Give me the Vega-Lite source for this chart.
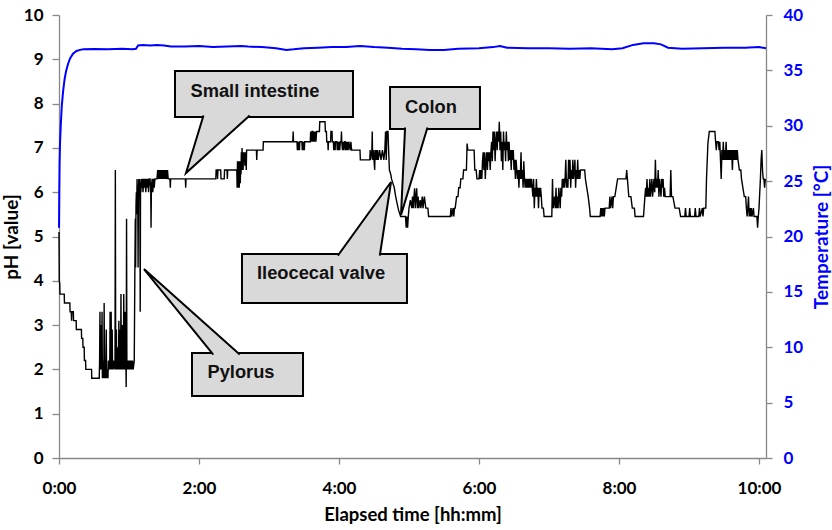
{
"$schema": "https://vega.github.io/schema/vega-lite/v6.json",
"width": 707, "height": 443,
"autosize": "none",
"padding": {"left": 59, "top": 15, "right": 66, "bottom": 72},
"background": "white",
"config": {
 "view": {"stroke": null},
 "axis": {"grid": false, "domainColor": "#888888", "tickColor": "#888888", "domainWidth": 1.3, "tickWidth": 1.3,
  "labelFont": "Lato", "labelFontWeight": "bold", "labelFontSize": 17, "labelColor": "black",
  "titleFont": "Lato", "titleFontWeight": "bold", "titleFontSize": 19, "titleColor": "black"}
},
"datasets": {
 "ph": [
{"t":0,"ph":5.1},{"t":0.004,"ph":4.0},{"t":0.01,"ph":3.95},{"t":0.014,"ph":3.7},{"t":0.075,"ph":3.7},{"t":0.078,"ph":3.5},{"t":0.155,"ph":3.5},{"t":0.158,"ph":3.3},{"t":0.175,"ph":3.3},{"t":0.18,"ph":3.1},{"t":0.185,"ph":3.3},{"t":0.205,"ph":3.3},{"t":0.208,"ph":3.1},{"t":0.245,"ph":3.1},{"t":0.248,"ph":2.9},{"t":0.32,"ph":2.9},{"t":0.323,"ph":2.7},{"t":0.34,"ph":2.7},{"t":0.343,"ph":2.5},{"t":0.36,"ph":2.5},{"t":0.363,"ph":2.2},{"t":0.38,"ph":2.2},{"t":0.383,"ph":2.0},{"t":0.465,"ph":2.0},{"t":0.468,"ph":1.8},{"t":0.575,"ph":1.8},
{"t":0.58,"ph":2.2},{"t":0.585,"ph":3.3},{"t":0.59,"ph":2.0},{"t":0.6,"ph":2.2},{"t":0.605,"ph":3.0},{"t":0.61,"ph":2.0},{"t":0.615,"ph":3.3},{"t":0.62,"ph":1.8},{"t":0.625,"ph":2.2},{"t":0.63,"ph":2.0},{"t":0.64,"ph":1.8},{"t":0.645,"ph":3.5},{"t":0.65,"ph":2.0},{"t":0.655,"ph":2.2},{"t":0.66,"ph":1.8},{"t":0.67,"ph":2.2},{"t":0.675,"ph":2.9},{"t":0.68,"ph":1.8},{"t":0.69,"ph":2.0},{"t":0.7,"ph":1.8},{"t":0.705,"ph":2.2},{"t":0.71,"ph":2.0},{"t":0.72,"ph":2.2},{"t":0.725,"ph":2.0},{"t":0.73,"ph":3.3},{"t":0.735,"ph":2.0},{"t":0.74,"ph":2.2},{"t":0.745,"ph":3.3},{"t":0.75,"ph":2.0},{"t":0.755,"ph":2.2},{"t":0.76,"ph":2.9},{"t":0.765,"ph":2.0},{"t":0.77,"ph":2.2},{"t":0.775,"ph":2.0},{"t":0.78,"ph":2.2},{"t":0.8,"ph":2.0},{"t":0.805,"ph":6.5},{"t":0.81,"ph":2.0},{"t":0.815,"ph":2.2},{"t":0.82,"ph":2.9},{"t":0.825,"ph":2.0},{"t":0.83,"ph":2.2},{"t":0.835,"ph":2.0},{"t":0.84,"ph":2.5},{"t":0.845,"ph":2.2},{"t":0.85,"ph":2.0},{"t":0.855,"ph":3.1},{"t":0.86,"ph":2.2},{"t":0.87,"ph":2.0},{"t":0.875,"ph":2.9},{"t":0.88,"ph":2.0},{"t":0.885,"ph":3.7},{"t":0.89,"ph":2.2},{"t":0.895,"ph":2.0},{"t":0.9,"ph":2.2},{"t":0.905,"ph":3.0},{"t":0.91,"ph":2.0},{"t":0.915,"ph":2.2},{"t":0.92,"ph":2.0},{"t":0.925,"ph":3.7},{"t":0.93,"ph":2.2},{"t":0.935,"ph":2.0},{"t":0.94,"ph":2.2},{"t":0.945,"ph":3.3},{"t":0.95,"ph":2.0},{"t":0.955,"ph":2.2},{"t":0.96,"ph":1.6},{"t":0.965,"ph":5.4},{"t":0.97,"ph":2.0},{"t":0.975,"ph":2.2},{"t":0.98,"ph":2.0},{"t":0.99,"ph":2.2},{"t":1.0,"ph":2.0},{"t":1.01,"ph":2.2},{"t":1.02,"ph":2.0},{"t":1.03,"ph":2.2},{"t":1.04,"ph":2.0},{"t":1.05,"ph":2.2},{"t":1.06,"ph":2.0},{"t":1.075,"ph":2.2},
{"t":1.085,"ph":4.5},{"t":1.09,"ph":5.4},{"t":1.095,"ph":4.3},{"t":1.1,"ph":5.7},{"t":1.105,"ph":6.0},{"t":1.11,"ph":5.5},{"t":1.115,"ph":6.3},{"t":1.12,"ph":5.8},{"t":1.125,"ph":6.1},{"t":1.13,"ph":4.3},{"t":1.135,"ph":6.0},{"t":1.14,"ph":6.3},{"t":1.145,"ph":5.9},{"t":1.15,"ph":6.3},{"t":1.155,"ph":6.1},{"t":1.16,"ph":3.3},{"t":1.165,"ph":6.2},{"t":1.17,"ph":6.0},{"t":1.175,"ph":6.3},{"t":1.18,"ph":6.1},{"t":1.19,"ph":6.3},{"t":1.2,"ph":6.0},{"t":1.21,"ph":6.3},{"t":1.22,"ph":6.1},{"t":1.23,"ph":6.3},{"t":1.24,"ph":6.0},{"t":1.25,"ph":6.3},{"t":1.26,"ph":6.1},{"t":1.27,"ph":6.3},{"t":1.28,"ph":6.0},{"t":1.29,"ph":6.3},{"t":1.3,"ph":6.3},{"t":1.31,"ph":6.1},{"t":1.315,"ph":5.2},{"t":1.32,"ph":6.1},{"t":1.33,"ph":6.3},{"t":1.34,"ph":6.0},{"t":1.35,"ph":6.3},{"t":1.36,"ph":6.1},{"t":1.37,"ph":6.3},{"t":1.4,"ph":6.3},
{"t":1.41,"ph":6.5},{"t":1.42,"ph":6.3},{"t":1.43,"ph":6.5},{"t":1.44,"ph":6.3},{"t":1.45,"ph":6.5},{"t":1.46,"ph":6.3},{"t":1.47,"ph":6.5},{"t":1.48,"ph":6.3},{"t":1.49,"ph":6.5},{"t":1.5,"ph":6.3},{"t":1.51,"ph":6.5},{"t":1.52,"ph":6.3},{"t":1.53,"ph":6.5},{"t":1.54,"ph":6.3},{"t":1.55,"ph":6.5},{"t":1.56,"ph":6.3},{"t":1.585,"ph":6.3},{"t":1.59,"ph":6.1},{"t":1.595,"ph":6.3},{"t":1.805,"ph":6.3},{"t":1.81,"ph":6.1},{"t":1.815,"ph":6.3},{"t":2.24,"ph":6.3},{"t":2.245,"ph":6.5},{"t":2.26,"ph":6.5},{"t":2.265,"ph":6.3},{"t":2.27,"ph":6.5},{"t":2.31,"ph":6.5},{"t":2.315,"ph":6.3},{"t":2.36,"ph":6.3},{"t":2.365,"ph":6.5},{"t":2.4,"ph":6.5},{"t":2.405,"ph":6.3},{"t":2.41,"ph":6.5},{"t":2.54,"ph":6.5},
{"t":2.545,"ph":6.1},{"t":2.55,"ph":6.7},{"t":2.555,"ph":6.1},{"t":2.56,"ph":6.5},{"t":2.565,"ph":6.2},{"t":2.57,"ph":6.7},{"t":2.575,"ph":6.1},{"t":2.58,"ph":6.5},{"t":2.585,"ph":6.7},{"t":2.59,"ph":6.2},{"t":2.595,"ph":6.7},{"t":2.6,"ph":6.4},{"t":2.605,"ph":6.9},{"t":2.61,"ph":6.5},{"t":2.615,"ph":7.0},{"t":2.62,"ph":6.7},{"t":2.625,"ph":6.9},{"t":2.63,"ph":6.5},{"t":2.635,"ph":6.9},{"t":2.64,"ph":6.7},{"t":2.65,"ph":6.9},{"t":2.655,"ph":6.6},{"t":2.66,"ph":6.9},{"t":2.665,"ph":6.7},{"t":2.67,"ph":6.9},{"t":2.675,"ph":6.5},{"t":2.68,"ph":6.95},{"t":2.82,"ph":6.95},{"t":2.825,"ph":6.73},{"t":2.83,"ph":6.95},{"t":2.915,"ph":6.95},{"t":2.92,"ph":7.14},{"t":3.34,"ph":7.14},{"t":3.345,"ph":7.37},{"t":3.35,"ph":7.14},{"t":3.4,"ph":7.14},
{"t":3.405,"ph":6.95},{"t":3.41,"ph":7.14},{"t":3.415,"ph":6.95},{"t":3.42,"ph":7.14},{"t":3.425,"ph":6.95},{"t":3.43,"ph":7.14},{"t":3.435,"ph":6.95},{"t":3.44,"ph":7.14},{"t":3.47,"ph":7.14},{"t":3.475,"ph":6.95},{"t":3.48,"ph":7.14},{"t":3.485,"ph":6.95},{"t":3.49,"ph":7.14},{"t":3.495,"ph":6.95},{"t":3.5,"ph":7.14},{"t":3.505,"ph":6.95},{"t":3.51,"ph":7.14},{"t":3.59,"ph":7.14},{"t":3.595,"ph":7.37},{"t":3.6,"ph":7.14},{"t":3.605,"ph":7.37},{"t":3.61,"ph":7.14},{"t":3.615,"ph":7.37},{"t":3.625,"ph":7.37},{"t":3.63,"ph":7.14},{"t":3.64,"ph":7.37},{"t":3.65,"ph":7.14},{"t":3.66,"ph":7.37},{"t":3.67,"ph":7.14},{"t":3.68,"ph":7.37},{"t":3.72,"ph":7.37},{"t":3.725,"ph":7.59},{"t":3.8,"ph":7.59},{"t":3.805,"ph":7.37},{"t":3.82,"ph":7.37},{"t":3.825,"ph":7.14},{"t":3.84,"ph":7.14},{"t":3.845,"ph":6.95},{"t":3.85,"ph":7.14},{"t":3.88,"ph":7.14},{"t":3.885,"ph":7.37},{"t":3.9,"ph":7.37},{"t":3.905,"ph":7.14},{"t":3.92,"ph":7.14},{"t":3.925,"ph":6.95},{"t":3.93,"ph":7.14},{"t":3.935,"ph":6.95},{"t":3.94,"ph":7.14},{"t":3.945,"ph":6.95},{"t":3.95,"ph":7.14},{"t":3.97,"ph":7.14},{"t":3.975,"ph":6.95},{"t":3.98,"ph":7.14},{"t":3.99,"ph":6.95},{"t":4.0,"ph":7.14},{"t":4.01,"ph":6.95},{"t":4.02,"ph":7.14},{"t":4.03,"ph":7.14},{"t":4.035,"ph":7.37},{"t":4.04,"ph":7.14},{"t":4.05,"ph":6.95},{"t":4.06,"ph":7.14},{"t":4.07,"ph":6.95},{"t":4.08,"ph":7.14},{"t":4.09,"ph":7.14},{"t":4.095,"ph":6.95},{"t":4.1,"ph":7.14},{"t":4.11,"ph":6.95},{"t":4.12,"ph":7.14},{"t":4.13,"ph":6.95},{"t":4.14,"ph":7.14},{"t":4.16,"ph":6.95},{"t":4.17,"ph":7.14},{"t":4.18,"ph":6.95},{"t":4.3,"ph":6.95},{"t":4.305,"ph":6.73},{"t":4.44,"ph":6.73},{"t":4.445,"ph":6.95},{"t":4.45,"ph":6.73},{"t":4.47,"ph":6.95},{"t":4.475,"ph":7.37},{"t":4.48,"ph":6.73},{"t":4.49,"ph":6.95},{"t":4.5,"ph":6.73},{"t":4.51,"ph":6.5},{"t":4.515,"ph":6.95},{"t":4.52,"ph":6.73},{"t":4.53,"ph":6.95},{"t":4.54,"ph":6.73},{"t":4.55,"ph":6.95},{"t":4.56,"ph":6.73},{"t":4.58,"ph":6.95},{"t":4.6,"ph":6.73},{"t":4.62,"ph":6.95},{"t":4.64,"ph":6.73},{"t":4.655,"ph":6.95},{"t":4.665,"ph":7.37},{"t":4.675,"ph":6.73},{"t":4.685,"ph":7.37},{"t":4.7,"ph":7.37},{"t":4.71,"ph":6.9},{"t":4.72,"ph":6.5},{"t":4.74,"ph":6.4},{"t":4.75,"ph":6.3},{"t":4.77,"ph":6.2},{"t":4.79,"ph":6.1},{"t":4.81,"ph":5.9},{"t":4.83,"ph":5.75},{"t":4.85,"ph":5.6},{"t":4.88,"ph":5.45},{"t":4.95,"ph":5.45},{"t":4.96,"ph":5.2},{"t":4.97,"ph":5.45},{"t":4.98,"ph":5.2},{"t":4.99,"ph":5.45},
{"t":5.0,"ph":5.64},{"t":5.02,"ph":5.82},{"t":5.04,"ph":5.64},{"t":5.05,"ph":5.9},{"t":5.06,"ph":5.64},{"t":5.08,"ph":6.09},{"t":5.09,"ph":5.64},{"t":5.1,"ph":5.9},{"t":5.11,"ph":6.09},{"t":5.12,"ph":5.64},{"t":5.13,"ph":5.9},{"t":5.14,"ph":5.64},{"t":5.16,"ph":5.82},{"t":5.17,"ph":5.64},{"t":5.19,"ph":5.9},{"t":5.2,"ph":5.64},{"t":5.22,"ph":5.9},{"t":5.24,"ph":5.64},{"t":5.27,"ph":5.64},{"t":5.28,"ph":5.45},{"t":5.59,"ph":5.45},{"t":5.6,"ph":5.64},{"t":5.61,"ph":5.45},{"t":5.63,"ph":5.64},{"t":5.64,"ph":5.45},{"t":5.65,"ph":5.64},{"t":5.66,"ph":5.64},{"t":5.68,"ph":5.9},{"t":5.7,"ph":5.9},{"t":5.71,"ph":6.1},{"t":5.73,"ph":6.1},{"t":5.74,"ph":6.3},{"t":5.77,"ph":6.3},{"t":5.78,"ph":6.5},{"t":5.82,"ph":6.5},{"t":5.83,"ph":7.1},{"t":5.84,"ph":6.95},{"t":5.93,"ph":6.95},{"t":5.94,"ph":6.5},{"t":5.96,"ph":6.5},{"t":5.97,"ph":6.3},{"t":6.0,"ph":6.3},
{"t":6.01,"ph":6.5},{"t":6.02,"ph":6.3},{"t":6.03,"ph":6.5},{"t":6.04,"ph":6.3},{"t":6.05,"ph":6.7},{"t":6.06,"ph":6.9},{"t":6.07,"ph":6.5},{"t":6.08,"ph":6.9},{"t":6.09,"ph":6.3},{"t":6.1,"ph":6.7},{"t":6.11,"ph":6.9},{"t":6.12,"ph":6.5},{"t":6.13,"ph":6.9},{"t":6.14,"ph":6.7},{"t":6.15,"ph":6.9},{"t":6.16,"ph":6.5},{"t":6.17,"ph":6.9},{"t":6.18,"ph":7.14},{"t":6.19,"ph":6.7},{"t":6.2,"ph":7.37},{"t":6.21,"ph":6.95},{"t":6.22,"ph":7.37},{"t":6.23,"ph":6.7},{"t":6.24,"ph":7.14},{"t":6.25,"ph":7.37},{"t":6.26,"ph":6.95},{"t":6.27,"ph":7.37},{"t":6.28,"ph":7.14},{"t":6.29,"ph":7.59},{"t":6.3,"ph":6.95},{"t":6.31,"ph":7.37},{"t":6.32,"ph":6.7},{"t":6.33,"ph":7.14},{"t":6.34,"ph":6.5},{"t":6.35,"ph":7.37},{"t":6.36,"ph":6.95},{"t":6.37,"ph":7.14},{"t":6.38,"ph":6.7},{"t":6.39,"ph":7.37},{"t":6.4,"ph":6.95},{"t":6.41,"ph":7.14},{"t":6.42,"ph":6.7},{"t":6.43,"ph":7.14},{"t":6.44,"ph":6.73},{"t":6.45,"ph":6.95},{"t":6.46,"ph":6.5},{"t":6.47,"ph":6.95},{"t":6.48,"ph":6.73},{"t":6.49,"ph":6.95},{"t":6.5,"ph":6.5},{"t":6.51,"ph":6.73},{"t":6.52,"ph":6.3},{"t":6.53,"ph":6.73},{"t":6.54,"ph":6.5},{"t":6.55,"ph":6.3},{"t":6.56,"ph":6.5},{"t":6.57,"ph":6.1},{"t":6.58,"ph":6.5},{"t":6.59,"ph":6.3},{"t":6.6,"ph":6.9},{"t":6.61,"ph":6.3},{"t":6.62,"ph":6.5},{"t":6.63,"ph":6.1},{"t":6.64,"ph":6.7},{"t":6.65,"ph":6.3},{"t":6.66,"ph":6.1},{"t":6.67,"ph":6.3},{"t":6.68,"ph":6.1},{"t":6.69,"ph":6.3},{"t":6.7,"ph":6.1},{"t":6.71,"ph":6.3},{"t":6.72,"ph":6.1},{"t":6.73,"ph":6.3},{"t":6.74,"ph":6.1},{"t":6.75,"ph":6.3},{"t":6.76,"ph":6.1},{"t":6.77,"ph":5.9},{"t":6.78,"ph":6.3},{"t":6.79,"ph":5.64},{"t":6.8,"ph":6.1},{"t":6.81,"ph":5.9},{"t":6.82,"ph":6.3},{"t":6.83,"ph":5.9},{"t":6.84,"ph":6.1},{"t":6.85,"ph":5.64},{"t":6.86,"ph":6.1},{"t":6.87,"ph":5.9},{"t":6.88,"ph":6.1},{"t":6.89,"ph":5.9},{"t":6.9,"ph":5.64},{"t":6.92,"ph":5.64},{"t":6.93,"ph":5.45},{"t":7.04,"ph":5.45},{"t":7.05,"ph":6.3},{"t":7.06,"ph":5.64},{"t":7.08,"ph":5.9},{"t":7.09,"ph":5.64},{"t":7.1,"ph":6.1},{"t":7.11,"ph":5.64},{"t":7.12,"ph":5.9},{"t":7.13,"ph":5.64},{"t":7.14,"ph":6.1},{"t":7.15,"ph":5.9},{"t":7.16,"ph":5.64},{"t":7.17,"ph":6.1},{"t":7.18,"ph":5.9},{"t":7.19,"ph":6.3},{"t":7.2,"ph":6.1},{"t":7.21,"ph":6.3},{"t":7.22,"ph":6.1},{"t":7.23,"ph":6.3},{"t":7.24,"ph":6.73},{"t":7.25,"ph":6.1},{"t":7.26,"ph":6.3},{"t":7.27,"ph":6.1},{"t":7.28,"ph":6.73},{"t":7.29,"ph":6.3},{"t":7.3,"ph":6.73},{"t":7.31,"ph":6.1},{"t":7.32,"ph":6.5},{"t":7.33,"ph":6.3},{"t":7.34,"ph":6.73},{"t":7.35,"ph":6.3},{"t":7.36,"ph":6.5},{"t":7.37,"ph":6.73},{"t":7.38,"ph":6.1},{"t":7.39,"ph":6.5},{"t":7.4,"ph":6.3},{"t":7.41,"ph":6.73},{"t":7.42,"ph":6.3},{"t":7.43,"ph":6.5},{"t":7.44,"ph":6.3},{"t":7.45,"ph":6.5},{"t":7.51,"ph":6.5},{"t":7.52,"ph":6.3},{"t":7.54,"ph":6.1},{"t":7.56,"ph":5.9},{"t":7.58,"ph":5.64},{"t":7.59,"ph":5.45},{"t":7.73,"ph":5.45},{"t":7.74,"ph":5.64},{"t":7.75,"ph":5.45},{"t":7.76,"ph":5.64},{"t":7.77,"ph":5.45},{"t":7.78,"ph":5.64},{"t":7.79,"ph":5.45},{"t":7.8,"ph":5.64},{"t":7.86,"ph":5.64},{"t":7.87,"ph":5.9},{"t":7.88,"ph":5.64},{"t":7.9,"ph":5.9},{"t":7.91,"ph":5.64},{"t":7.92,"ph":5.9},{"t":7.94,"ph":5.9},{"t":7.96,"ph":6.1},{"t":7.98,"ph":6.3},{"t":8.1,"ph":6.3},{"t":8.11,"ph":6.5},{"t":8.12,"ph":6.3},{"t":8.14,"ph":5.9},{"t":8.17,"ph":5.9},{"t":8.19,"ph":5.64},{"t":8.22,"ph":5.64},{"t":8.23,"ph":5.45},{"t":8.35,"ph":5.45},{"t":8.37,"ph":5.9},{"t":8.38,"ph":6.1},{"t":8.39,"ph":5.9},{"t":8.4,"ph":6.3},{"t":8.41,"ph":5.9},{"t":8.42,"ph":6.1},{"t":8.43,"ph":5.9},{"t":8.44,"ph":6.3},{"t":8.45,"ph":5.9},{"t":8.46,"ph":6.1},{"t":8.47,"ph":6.3},{"t":8.48,"ph":5.9},{"t":8.49,"ph":6.1},{"t":8.5,"ph":6.3},{"t":8.51,"ph":6.0},{"t":8.52,"ph":6.73},{"t":8.53,"ph":6.1},{"t":8.54,"ph":6.3},{"t":8.55,"ph":6.1},{"t":8.56,"ph":6.5},{"t":8.57,"ph":5.9},{"t":8.58,"ph":6.3},{"t":8.59,"ph":6.1},{"t":8.6,"ph":5.9},{"t":8.61,"ph":6.3},{"t":8.62,"ph":6.1},{"t":8.63,"ph":6.3},{"t":8.64,"ph":5.9},{"t":8.65,"ph":6.1},{"t":8.66,"ph":5.9},{"t":8.73,"ph":5.9},{"t":8.74,"ph":6.5},{"t":8.75,"ph":5.9},{"t":8.77,"ph":5.9},{"t":8.8,"ph":5.64},{"t":8.86,"ph":5.64},{"t":8.88,"ph":5.45},{"t":8.94,"ph":5.45},{"t":8.95,"ph":5.64},{"t":8.96,"ph":5.45},{"t":9.0,"ph":5.45},{"t":9.01,"ph":5.64},{"t":9.02,"ph":5.45},{"t":9.08,"ph":5.45},{"t":9.09,"ph":5.64},{"t":9.1,"ph":5.45},{"t":9.14,"ph":5.45},{"t":9.15,"ph":5.64},{"t":9.16,"ph":5.45},{"t":9.19,"ph":5.64},{"t":9.2,"ph":5.45},{"t":9.21,"ph":5.64},{"t":9.24,"ph":5.64},{"t":9.25,"ph":6.3},{"t":9.27,"ph":7.1},{"t":9.29,"ph":7.37},{"t":9.37,"ph":7.37},{"t":9.38,"ph":7.14},{"t":9.39,"ph":6.95},{"t":9.4,"ph":7.14},{"t":9.42,"ph":7.14},{"t":9.43,"ph":6.95},{"t":9.44,"ph":7.14},{"t":9.45,"ph":6.73},{"t":9.46,"ph":6.3},{"t":9.47,"ph":6.95},{"t":9.48,"ph":6.73},{"t":9.49,"ph":7.14},{"t":9.5,"ph":6.73},{"t":9.51,"ph":6.95},{"t":9.52,"ph":6.73},{"t":9.53,"ph":7.14},{"t":9.54,"ph":6.73},{"t":9.55,"ph":6.95},{"t":9.56,"ph":6.73},{"t":9.57,"ph":6.95},{"t":9.58,"ph":6.73},{"t":9.59,"ph":6.95},{"t":9.6,"ph":6.73},{"t":9.61,"ph":6.95},{"t":9.62,"ph":6.5},{"t":9.63,"ph":6.95},{"t":9.64,"ph":6.73},{"t":9.65,"ph":6.95},{"t":9.66,"ph":6.73},{"t":9.67,"ph":6.95},{"t":9.68,"ph":6.73},{"t":9.69,"ph":6.95},{"t":9.7,"ph":6.73},{"t":9.72,"ph":6.5},{"t":9.74,"ph":6.5},{"t":9.75,"ph":6.3},{"t":9.77,"ph":6.1},{"t":9.79,"ph":5.9},{"t":9.81,"ph":5.9},{"t":9.82,"ph":5.64},{"t":9.83,"ph":5.45},{"t":9.84,"ph":5.64},{"t":9.85,"ph":5.9},{"t":9.86,"ph":5.45},{"t":9.87,"ph":5.64},{"t":9.88,"ph":5.45},{"t":9.89,"ph":5.64},{"t":9.9,"ph":5.45},{"t":9.92,"ph":5.64},{"t":9.93,"ph":5.45},{"t":9.97,"ph":5.45},{"t":9.98,"ph":5.2},{"t":9.99,"ph":5.45},{"t":10.0,"ph":5.64},{"t":10.02,"ph":6.3},{"t":10.03,"ph":6.73},{"t":10.04,"ph":6.95},{"t":10.05,"ph":6.5},{"t":10.06,"ph":6.3},{"t":10.07,"ph":6.3},{"t":10.08,"ph":6.1},{"t":10.09,"ph":6.3}
 ],
 "temp": [
{"t":0,"temp":20.8},{"t":0.004,"temp":24},{"t":0.008,"temp":26.5},{"t":0.015,"temp":28.5},{"t":0.025,"temp":30},{"t":0.04,"temp":31.8},{"t":0.06,"temp":33.2},{"t":0.08,"temp":34.2},{"t":0.1,"temp":34.9},{"t":0.13,"temp":35.6},{"t":0.16,"temp":36.1},{"t":0.2,"temp":36.5},{"t":0.25,"temp":36.75},{"t":0.3,"temp":36.85},{"t":0.35,"temp":36.9},{"t":0.5,"temp":36.92},{"t":0.7,"temp":36.9},{"t":0.9,"temp":36.95},{"t":1.05,"temp":36.9},{"t":1.1,"temp":36.95},{"t":1.13,"temp":37.25},{"t":1.2,"temp":37.3},{"t":1.3,"temp":37.25},{"t":1.4,"temp":37.3},{"t":1.5,"temp":37.25},{"t":1.6,"temp":37.15},{"t":1.8,"temp":37.15},{"t":2.0,"temp":37.2},{"t":2.2,"temp":37.1},{"t":2.4,"temp":37.15},{"t":2.6,"temp":37.2},{"t":2.7,"temp":37.15},{"t":2.9,"temp":37.1},{"t":3.1,"temp":37.0},{"t":3.25,"temp":36.85},{"t":3.35,"temp":36.9},{"t":3.5,"temp":37.0},{"t":3.7,"temp":37.05},{"t":3.9,"temp":37.1},{"t":4.1,"temp":37.1},{"t":4.3,"temp":37.2},{"t":4.5,"temp":37.1},{"t":4.7,"temp":37.05},{"t":4.9,"temp":36.95},{"t":5.1,"temp":36.9},{"t":5.3,"temp":36.85},{"t":5.5,"temp":36.85},{"t":5.7,"temp":36.95},{"t":6.0,"temp":37.0},{"t":6.2,"temp":37.1},{"t":6.3,"temp":37.2},{"t":6.4,"temp":37.05},{"t":6.7,"temp":37.0},{"t":7.0,"temp":37.0},{"t":7.3,"temp":36.95},{"t":7.6,"temp":37.0},{"t":7.9,"temp":36.9},{"t":8.05,"temp":37.0},{"t":8.2,"temp":37.3},{"t":8.35,"temp":37.45},{"t":8.5,"temp":37.45},{"t":8.6,"temp":37.35},{"t":8.7,"temp":37.05},{"t":8.9,"temp":36.95},{"t":9.2,"temp":37.0},{"t":9.5,"temp":37.05},{"t":9.8,"temp":37.05},{"t":10.0,"temp":37.1},{"t":10.1,"temp":37.0}
 ],
 "boxes": [
{"name":"Small intestine","t1":1.657,"t2":4.2,"p1":8.736,"p2":7.698},
{"name":"Colon","t1":4.729,"t2":6.014,"p1":8.375,"p2":7.427},
{"name":"Ileocecal valve","t1":2.614,"t2":4.971,"p1":4.605,"p2":3.499},
{"name":"Pylorus","t1":1.9,"t2":3.486,"p1":2.37,"p2":1.4}
 ],
 "pointers": [
{"name":"Small intestine","o":1,"t":2.064,"ph":7.733},{"name":"Small intestine","o":2,"t":1.814,"ph":6.433},{"name":"Small intestine","o":3,"t":2.7245,"ph":7.733},
{"name":"Colon","o":1,"t":4.944,"ph":7.462},{"name":"Colon","o":2,"t":4.886,"ph":5.485},{"name":"Colon","o":3,"t":5.264,"ph":7.462},
{"name":"Ileocecal valve","o":1,"t":3.984,"ph":4.57},{"name":"Ileocecal valve","o":2,"t":4.743,"ph":6.23},{"name":"Ileocecal valve","o":3,"t":4.583,"ph":4.57},
{"name":"Pylorus","o":1,"t":2.204,"ph":2.335},{"name":"Pylorus","o":2,"t":1.214,"ph":4.266},{"name":"Pylorus","o":3,"t":2.582,"ph":2.335}
 ],
 "labels": [
{"name":"Small intestine","t":2.8,"ph":8.26},
{"name":"Colon","t":5.314,"ph":7.9},
{"name":"Ileocecal valve","t":3.743,"ph":4.153},
{"name":"Pylorus","t":2.6,"ph":1.92}
 ]
},
"layer": [
 {"layer": [
  {"data": {"name": "ph"},
   "mark": {"type": "line", "color": "black", "strokeWidth": 1.4},
   "encoding": {
    "x": {"field": "t", "type": "quantitative", "title": "Elapsed time [hh:mm]",
      "scale": {"domain": [0, 10.1], "nice": false, "zero": false},
      "axis": {"values": [0,2,4,6,8,10], "labelExpr": "floor(datum.value) + ':00'", "labelFlush": false, "tickSize": 6, "labelPadding": 16, "titlePadding": 9, "titleFontSize": 18.5}},
    "y": {"field": "ph", "type": "quantitative", "title": "pH [value]",
      "scale": {"domain": [0, 10], "nice": false},
      "axis": {"values": [0,1,2,3,4,5,6,7,8,9,10], "tickSize": 7, "labelPadding": 9, "titlePadding": 2}}
   }},
  {"data": {"name": "boxes"},
   "mark": {"type": "rect", "fill": "#d9d9d9", "stroke": "black", "strokeWidth": 2},
   "encoding": {
    "x": {"field": "t1", "type": "quantitative", "title": "Elapsed time [hh:mm]"},
    "x2": {"field": "t2"},
    "y": {"field": "p1", "type": "quantitative", "title": "pH [value]"},
    "y2": {"field": "p2"}
   }},
  {"data": {"name": "pointers"},
   "mark": {"type": "line", "fill": "#d9d9d9", "stroke": "black", "strokeWidth": 2, "strokeJoin": "miter"},
   "encoding": {
    "x": {"field": "t", "type": "quantitative", "title": "Elapsed time [hh:mm]"},
    "y": {"field": "ph", "type": "quantitative", "title": "pH [value]"},
    "detail": {"field": "name"},
    "order": {"field": "o"}
   }},
  {"data": {"name": "labels"},
   "mark": {"type": "text", "font": "Liberation Sans", "fontWeight": "bold", "fontSize": 18.3, "color": "#111111", "align": "center", "baseline": "middle"},
   "encoding": {
    "x": {"field": "t", "type": "quantitative", "title": "Elapsed time [hh:mm]"},
    "y": {"field": "ph", "type": "quantitative", "title": "pH [value]"},
    "text": {"field": "name"}
   }}
 ]},
 {"data": {"name": "temp"},
  "mark": {"type": "line", "color": "#0000FF", "strokeWidth": 2},
  "encoding": {
   "x": {"field": "t", "type": "quantitative", "title": "Elapsed time [hh:mm]"},
   "y": {"field": "temp", "type": "quantitative", "title": "Temperature [°C]",
     "scale": {"domain": [0, 40], "nice": false},
     "axis": {"orient": "right", "values": [0,5,10,15,20,25,30,35,40], "tickSize": 6, "labelPadding": 11, "labelColor": "#0000FF", "titleColor": "#0000FF", "titleAngle": 270, "titleBaseline": "top", "titlePadding": 10}}
  }}
],
"resolve": {"scale": {"y": "independent"}, "axis": {"y": "independent"}}
}
